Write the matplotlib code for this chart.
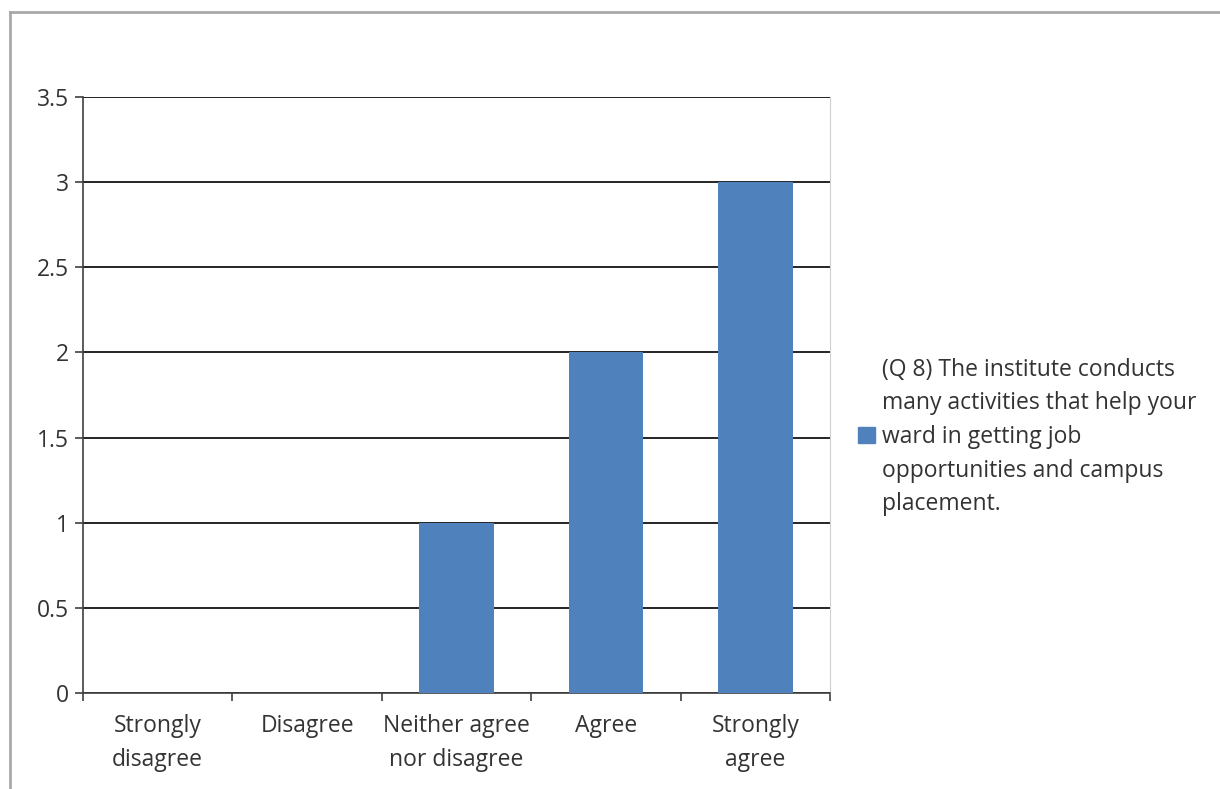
import matplotlib.pyplot as plt
from matplotlib.lines import Line2D
from matplotlib.patches import Rectangle

categories = ['Strongly\ndisagree', 'Disagree', 'Neither agree\nnor disagree', 'Agree', 'Strongly\nagree']
counts = [0, 0, 1, 2, 3]
series_name = ('(Q 8) The institute conducts\nmany activities that help your\n'
               'ward in getting job\nopportunities and campus\nplacement.')
y_ticks = [0, 0.5, 1, 1.5, 2, 2.5, 3, 3.5]
y_tick_labels = ['0', '0.5', '1', '1.5', '2', '2.5', '3', '3.5']

bar_color = '#4F81BD'
text_color = '#333333'
plt.rcParams['font.family'] = ['Open Sans', 'DejaVu Sans']
fs = 16.5

fig = plt.figure(figsize=(12.2, 7.89), dpi=100)
ax = fig.add_axes([83 / 1220, 1 - 693 / 789, (830 - 83) / 1220, (693 - 97) / 789])

x = list(range(len(categories)))
ax.bar(x, counts, width=0.5, color=bar_color, zorder=3)
ax.set_xlim(-0.5, len(categories) - 0.5)
ax.set_ylim(0, 3.5)

ax.set_yticks(y_ticks)
ax.set_yticklabels(y_tick_labels, fontsize=fs, color=text_color)
ax.yaxis.grid(True, color='black', linewidth=1.2, zorder=1)
ax.set_axisbelow(True)

ax.set_xticks([i - 0.5 for i in range(len(categories) + 1)])
ax.set_xticklabels([])
ax.set_xticks(x, minor=True)
ax.set_xticklabels(categories, minor=True, fontsize=fs, color=text_color, linespacing=1.58)
ax.tick_params(axis='x', which='minor', length=0, pad=15)
ax.tick_params(axis='x', which='major', length=6, width=1.2, color='#404040')
ax.tick_params(axis='y', length=6, width=1.2, color='#404040', pad=4)

ax.spines['top'].set_visible(False)
ax.spines['right'].set_color('#D0D0D0')
ax.spines['left'].set_color('#404040')
ax.spines['bottom'].set_color('#404040')
ax.spines['left'].set_linewidth(1.2)
ax.spines['bottom'].set_linewidth(1.2)

# legend
fig.patches.append(Rectangle((858 / 1220, 1 - 443 / 789), 17 / 1220, 16 / 789,
                             transform=fig.transFigure, color=bar_color))
fig.text(882 / 1220, 1 - 437 / 789, series_name, fontsize=fs, color=text_color,
         va='center', ha='left', linespacing=1.54)

# outer frame
frame_color = '#A8A8A8'
fig.add_artist(Line2D([10 / 1220, 10 / 1220], [0, 1 - 12 / 789], color=frame_color, linewidth=2))
fig.add_artist(Line2D([10 / 1220, 1], [1 - 12 / 789, 1 - 12 / 789], color=frame_color, linewidth=2))

fig.savefig('out.png', dpi=100)
